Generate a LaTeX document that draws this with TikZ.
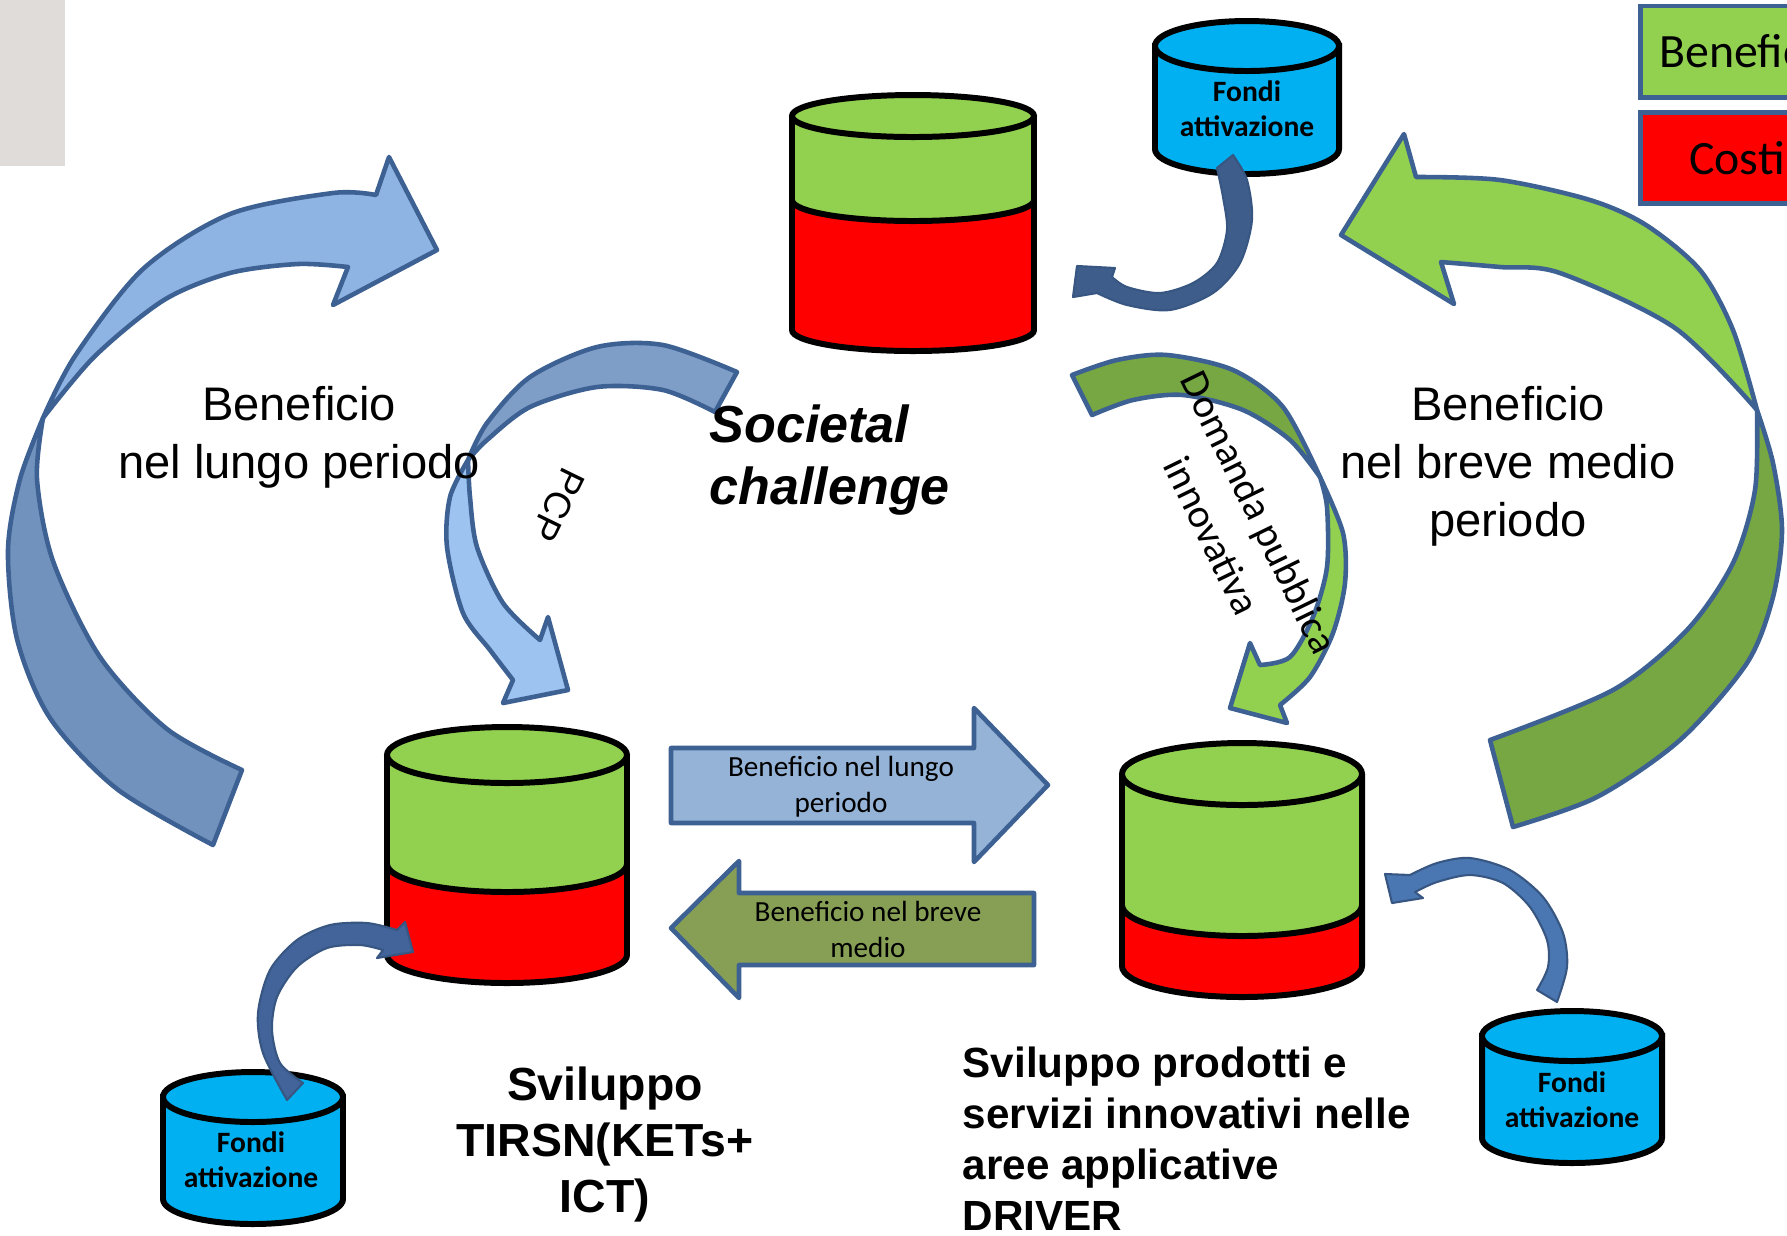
\documentclass[tikz,border=0pt]{standalone}
\usepackage{fontspec}
\setmainfont{Liberation Sans}
\newfontfamily\calib{Carlito}
\definecolor{edge}{HTML}{3D6193}
\definecolor{skylight}{HTML}{8EB4E3}
\definecolor{skydark}{HTML}{7192BC}
\definecolor{pcplight}{HTML}{9DC3F0}
\definecolor{pcpdark}{HTML}{7E9EC8}
\definecolor{leaf}{HTML}{92D050}
\definecolor{leafdark}{HTML}{76A742}
\definecolor{fund}{HTML}{00B0F0}
\definecolor{stream}{HTML}{95B3D7}
\definecolor{moss}{HTML}{869F55}
\definecolor{navyA}{HTML}{3E5D8A}
\definecolor{navyB}{HTML}{42649A}
\definecolor{navyC}{HTML}{4A77B2}
\definecolor{navyline}{HTML}{385682}
\definecolor{paper}{HTML}{DFDCD9}

% cx, rx, ry, top, divider, bottom
\newcommand{\tank}[6]{%
  \fill[red] ({#1-#2},#5) -- ({#1-#2},#6) arc[start angle=180,end angle=0,x radius=#2,y radius=#3]
    -- ({#1+#2},#5) arc[start angle=0,end angle=180,x radius=#2,y radius=#3] -- cycle;
  \fill[leaf] ({#1-#2},#4) -- ({#1-#2},#5) arc[start angle=180,end angle=0,x radius=#2,y radius=#3]
    -- ({#1+#2},#4) -- cycle;
  \draw[barrel] ({#1-#2},#4) -- ({#1-#2},#6) arc[start angle=180,end angle=0,x radius=#2,y radius=#3] -- ({#1+#2},#4);
  \draw[barrel] ({#1-#2},#5) arc[start angle=180,end angle=0,x radius=#2,y radius=#3];
  \filldraw[barrel,fill=leaf] (#1,#4) ellipse[x radius=#2,y radius=#3];}
% cx, rx, ry, top, bottom
\newcommand{\drum}[5]{%
  \filldraw[barrel,fill=fund] ({#1-#2},#4) -- ({#1-#2},#5) arc[start angle=180,end angle=0,x radius=#2,y radius=#3]
    -- ({#1+#2},#4) -- cycle;
  \filldraw[barrel,fill=fund] (#1,#4) ellipse[x radius=#2,y radius=#3];}

\begin{document}
\begin{tikzpicture}
[x=0.01cm,y=-0.01cm,%
  band/.style={draw=edge,line width=1.3pt,line join=round},
  tube/.style={draw=navyline,line width=0.6pt,line join=round},
  barrel/.style={draw=black,line width=1.7pt},
  every node/.style={inner sep=0pt,text=black},
  bigtxt/.style={align=center,font=\fontsize{13.4}{16.4}\selectfont},
  fundtxt/.style={align=center,font=\calib\fontsize{8.4}{9.8}\selectfont\bfseries},
  flowtxt/.style={align=center,font=\calib\fontsize{8.3}{10.1}\selectfont},
  legbox/.style={draw=edge,line width=1.4pt,minimum width=1.92cm,minimum height=0.91cm,
    font=\calib\fontsize{13.6}{15}\selectfont}]
\useasboundingbox (0,0) rectangle (1787,1235);
\clip (0,0) rectangle (1787,1235);
\fill[paper] (0,0) rectangle (65,166);

% long run loop
\filldraw[band,fill=skydark] plot[smooth] coordinates {(43,418) (37,479) (53,561) (100,657) (167,729) (242,770)}
  -- (213,845) -- plot[smooth] coordinates {(213,845) (117,789) (50,718) (17,639) (8,550) (20,479) (43,418)} -- cycle;
\filldraw[band,fill=skylight] (376,195) -- (389,157) -- (437,250) -- (333,305) -- (348,267)
  -- plot[smooth] coordinates {(348,267) (298,264) (230,273) (164,300) (95,356) (43,418)}
  -- plot[smooth] coordinates {(43,418) (75,356) (143,269) (230,214) (333,193) (376,195)} -- cycle;

% short run loop
\filldraw[band,fill=leafdark] plot[smooth] coordinates {(1757,410) (1755,490) (1733,563) (1687,630) (1613,690) (1490,740)}
  -- (1513,827) -- plot[smooth] coordinates {(1513,827) (1597,797) (1680,740) (1747,663) (1773,597) (1782,530) (1773,463) (1757,410)} -- cycle;
\filldraw[band,fill=leaf] (1416,177) -- (1404,134) -- (1341,235) -- (1454,304) -- (1441,262)
  -- plot[smooth] coordinates {(1441,262) (1500,267) (1560,273) (1675,328) (1757,410)}
  -- plot[smooth] coordinates {(1757,410) (1733,330) (1700,270) (1646,225) (1590,200) (1500,180) (1416,177)} -- cycle;

% PCP
\filldraw[band,fill=pcpdark] plot[smooth] coordinates {(737,372) (663,345) (597,347) (530,377) (487,423) (468,460)}
  -- plot[smooth] coordinates {(468,460) (487,440) (530,407) (597,387) (663,390) (715,412)} -- cycle;
\filldraw[band,fill=pcplight] plot[smooth] coordinates {(468,460) (470,497) (477,547) (503,603) (540,640)}
  -- (548,617) -- (568,690) -- (503,703) -- (513,680)
  -- plot[smooth] coordinates {(513,680) (490,650) (463,613) (447,547) (450,497) (468,460)} -- cycle;

% domanda pubblica
\filldraw[band,fill=leafdark] plot[smooth] coordinates {(1072,375) (1117,360) (1167,355) (1233,370) (1283,407) (1320,477)}
  -- plot[smooth] coordinates {(1320,477) (1290,440) (1243,410) (1183,395) (1133,400) (1092,415)} -- cycle;
\filldraw[band,fill=leaf] plot[smooth] coordinates {(1320,477) (1327,507) (1327,567) (1313,617) (1290,657) (1260,665)}
  -- (1250,643) -- (1230,708) -- (1287,723) -- (1280,705)
  -- plot[smooth] coordinates {(1280,705) (1310,677) (1333,633) (1345,583) (1343,533) (1320,477)} -- cycle;

% straight arrows
\filldraw[band,fill=stream] (671,748) -- (974,748) -- (974,708) -- (1048,785) -- (974,862) -- (974,823) -- (671,823) -- cycle;
\filldraw[band,fill=moss] (1034,893) -- (739,893) -- (739,861) -- (671,928) -- (739,998) -- (739,965) -- (1034,965) -- cycle;

\tank{913}{121}{21}{116}{200}{330}
\tank{507}{120}{28}{755}{864}{955}
\tank{1242}{120}{31}{774}{905}{966}
\drum{1247}{92}{25}{46}{149}
\drum{253}{90}{25}{1097}{1199}
\drum{1572}{90}{25}{1036}{1138}

% fondi arrows
\filldraw[tube,fill=navyA] (1217,168) -- (1233,155)
  -- plot[smooth] coordinates {(1233,155) (1247,180) (1252,220) (1240,263) (1213,293) (1170,310) (1127,305) (1097,293)}
  -- (1073,297) -- (1077,266) -- (1115,268) -- (1112,277)
  -- plot[smooth] coordinates {(1112,277) (1127,287) (1160,293) (1193,283) (1217,263) (1227,230) (1223,197) (1217,168)} -- cycle;
\filldraw[tube,fill=navyB] (287,1100)
  -- plot[smooth] coordinates {(287,1100) (263,1053) (258,1013) (270,970) (297,940) (330,925) (367,923) (397,930)}
  -- (405,922) -- (413,952) -- (377,958) -- (383,950)
  -- plot[smooth] coordinates {(383,950) (360,945) (327,948) (297,967) (277,997) (272,1030) (280,1063) (303,1083)} -- cycle;
\filldraw[tube,fill=navyC] (1537,990) -- (1557,1002)
  -- plot[smooth] coordinates {(1557,1002) (1567,967) (1563,933) (1543,897) (1510,870) (1470,858) (1437,863) (1410,875)}
  -- (1385,874) -- (1392,903) -- (1423,898) -- (1415,892)
  -- plot[smooth] coordinates {(1415,892) (1437,882) (1470,875) (1503,883) (1530,907) (1547,940) (1548,967) (1537,990)} -- cycle;

% legend
\node[legbox,fill=leaf] (legben) at (1737,51.5) {Benefici};
\node[legbox,fill=red] (legcost) at (1737,158) {Costi};

\node[fundtxt,anchor=base] (fondiN) at (1247,136) {Fondi\\attivazione};
\node[fundtxt,anchor=base] (fondiW) at (251,1187) {Fondi\\attivazione};
\node[fundtxt,anchor=base] (fondiE) at (1572,1127) {Fondi\\attivazione};
\node[flowtxt,anchor=base] (flowlong) at (841,812) {Beneficio nel lungo\\periodo};
\node[flowtxt,anchor=base] (flowshort) at (868,957) {Beneficio nel breve\\medio};

\node[bigtxt,anchor=base] (longrun) at (299,478) {Beneficio\\nel lungo periodo};
\node[bigtxt,anchor=base] (shortrun) at (1508,536) {Beneficio\\nel breve medio\\periodo};
\node[anchor=base west,align=left,font=\fontsize{14.8}{17.4}\selectfont\bfseries\itshape] (societal) at (709,504) {Societal\\challenge};
\node[rotate=-116,font=\fontsize{10.5}{12}\selectfont] (pcp) at (558,505) {PCP};
\node[rotate=-64,align=center,font=\calib\fontsize{11.5}{15}\selectfont] (domanda) at (1236,524) {Domanda pubblica\\innovativa};
\node[anchor=base,align=center,font=\fontsize{13.2}{15.9}\selectfont\bfseries] (tirsn) at (605,1212) {Sviluppo\\TIRSN(KETs+\\ICT)};
\node[anchor=base west,align=left,font=\fontsize{12}{14.5}\selectfont\bfseries] (driver) at (962,1230) {Sviluppo prodotti e\\servizi innovativi nelle\\aree applicative\\DRIVER};
\end{tikzpicture}
\end{document}
